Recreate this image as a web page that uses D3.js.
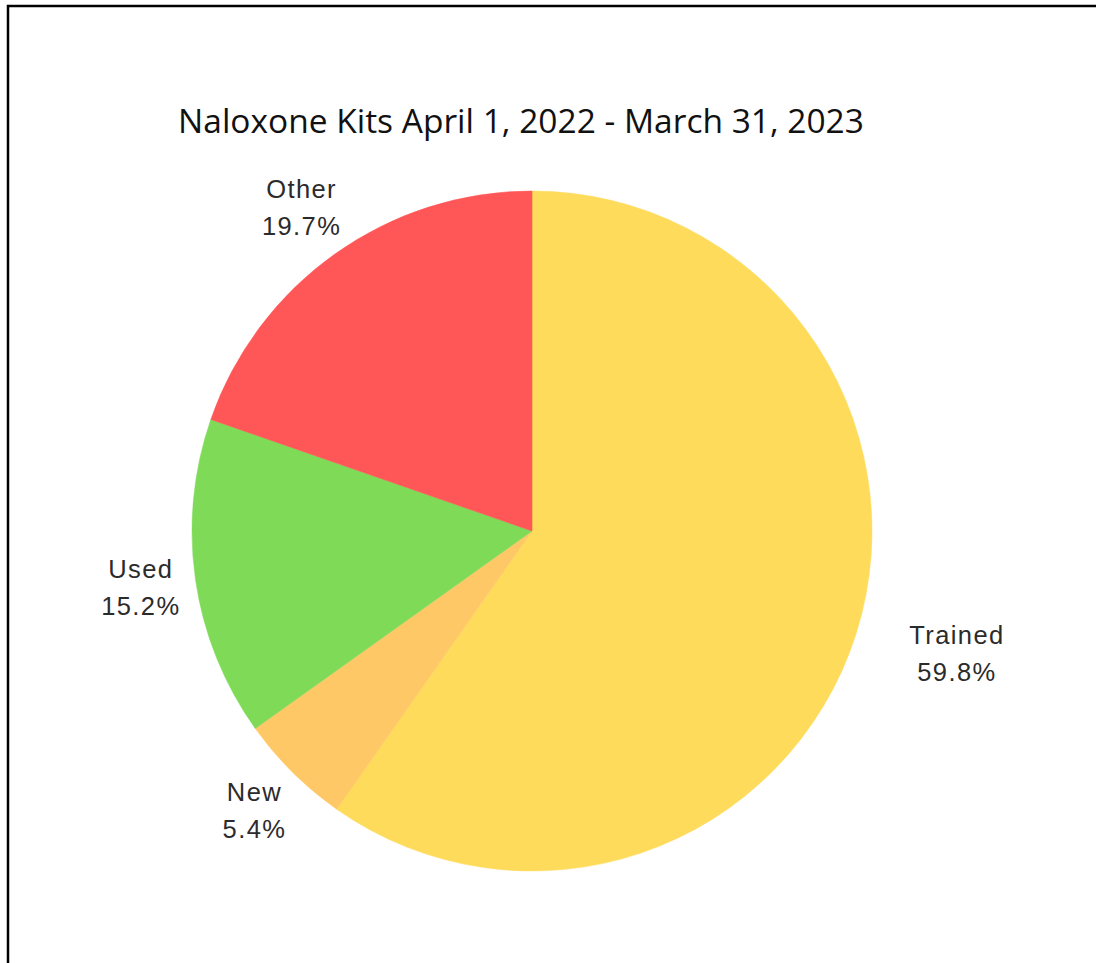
<!DOCTYPE html>
<html>
<head>
<meta charset="utf-8">
<script src="https://cdn.jsdelivr.net/npm/d3@7"></script>
<style>
  html, body { margin: 0; padding: 0; background: #fff; }
  svg { display: block; }
</style>
</head>
<body>
<svg id="chart" width="1096" height="963"></svg>
<script>
const titleText = "Naloxone Kits April 1, 2022 - March 31, 2023";
const categories = ["Trained", "New", "Used", "Other"];
const values = [59.8, 5.4, 15.2, 19.7];
const labelsPct = ["59.8%", "5.4%", "15.2%", "19.7%"];
const colors = ["#FEDB5A", "#FEC866", "#7FDA58", "#FF5757"];

const W = 1096, H = 963;
const svg = d3.select("#chart");

// frame (top and left edges visible)
svg.append("path")
  .attr("d", `M8,${H + 5} L8,6 L${W + 5},6`)
  .attr("fill", "none").attr("stroke", "#000").attr("stroke-width", 2.5);

// title
const title = svg.append("text")
  .attr("x", 521).attr("y", 133)
  .attr("text-anchor", "middle")
  .attr("font-family", "'Open Sans', sans-serif")
  .attr("font-size", 28)
  .attr("fill", "#111")
  .text(titleText);
const tl = title.node().getComputedTextLength();
title.attr("font-size", 28 * 686 / tl);

const cx = 532, cy = 531, r = 340;
const data = categories.map((c, i) => ({ cat: c, value: values[i], pct: labelsPct[i], color: colors[i] }));
const pie = d3.pie().sort(null).value(d => d.value);
const arcs = pie(data);
const arc = d3.arc().innerRadius(0).outerRadius(r);

const g = svg.append("g").attr("transform", `translate(${cx},${cy})`);
g.selectAll("path.slice").data(arcs).enter().append("path")
  .attr("class", "slice")
  .attr("d", arc)
  .attr("fill", d => d.data.color)
  .attr("stroke", d => d.data.color)
  .attr("stroke-width", 0.5);

// labels
const fs = 25.5, lh = 37, gap = 12, rightExtra = 38;
arcs.forEach(a => {
  const mid = (a.startAngle + a.endAngle) / 2;
  const ux = Math.sin(mid), uy = -Math.cos(mid);
  const t = g.append("text")
    .attr("text-anchor", "middle")
    .attr("font-family", "'Liberation Sans', Arial, sans-serif")
    .attr("font-size", fs)
    .attr("letter-spacing", 1.4)
    .attr("fill", "#2b2b2b");
  t.append("tspan").attr("x", 0).attr("dy", 0).text(a.data.cat);
  t.append("tspan").attr("x", 0).attr("dy", lh).text(a.data.pct);
  const bb = t.node().getBBox();
  const w = bb.width, h = lh + fs * 0.72;
  const ext = Math.abs(ux) * w / 2 + Math.abs(uy) * h / 2;
  const R = r + gap + ext;
  const px = ux * R + (ux > 0.5 ? rightExtra : 0), py = uy * R;
  t.attr("transform", `translate(${px},${py - h / 2 + fs * 0.72})`);
});
</script>
</body>
</html>
